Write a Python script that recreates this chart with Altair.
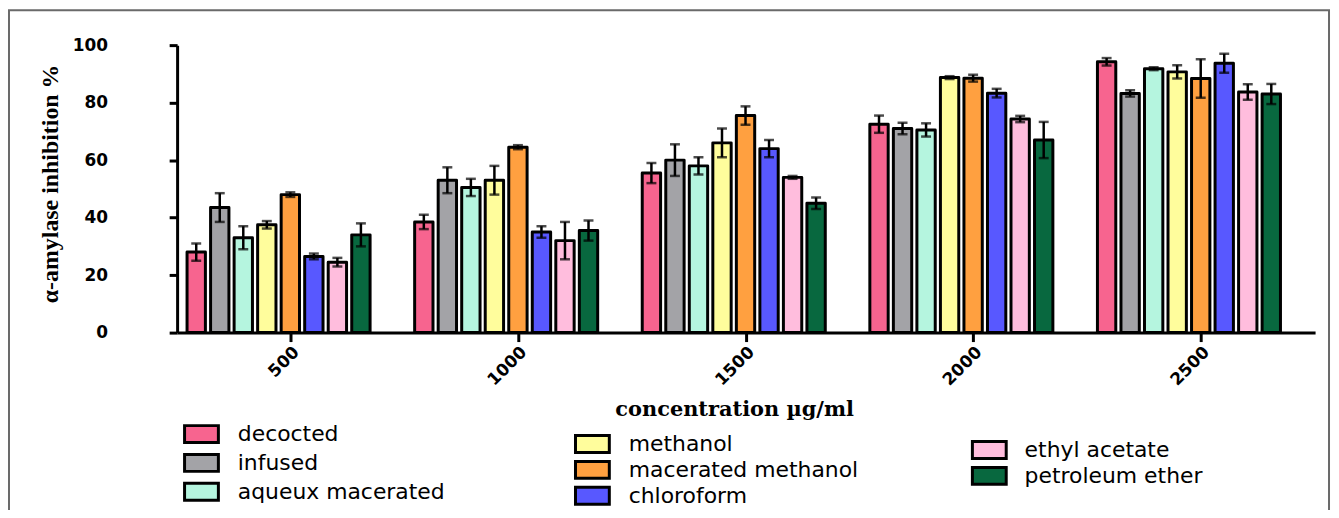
import altair as alt
import pandas as pd

concentrations = ["500", "1000", "1500", "2000", "2500"]
series = ["decocted", "infused", "aqueux macerated", "methanol",
          "macerated methanol", "chloroform", "ethyl acetate", "petroleum ether"]
colors = ["#F7648F", "#A3A3A7", "#B5F5DF", "#FFFD9C",
          "#FFA040", "#5858FF", "#FFBDDD", "#08683F"]

values = [
    [28.0, 38.5, 55.5, 72.5, 94.2],   # decocted
    [43.5, 53.0, 60.0, 71.0, 83.2],   # infused
    [33.0, 50.5, 58.0, 70.5, 91.8],   # aqueux macerated
    [37.5, 53.0, 66.0, 88.7, 90.7],   # methanol
    [48.0, 64.5, 75.5, 88.5, 88.4],   # macerated methanol
    [26.5, 35.0, 64.0, 83.3, 93.7],   # chloroform
    [24.5, 32.0, 54.0, 74.3, 83.7],   # ethyl acetate
    [34.0, 35.5, 45.0, 67.0, 83.0],   # petroleum ether
]
errors = [
    [3.0, 2.5, 3.5, 3.0, 1.3],
    [5.0, 4.5, 5.5, 2.0, 1.1],
    [4.0, 3.0, 3.0, 2.3, 0.5],
    [1.3, 5.0, 5.0, 0.5, 2.3],
    [0.8, 0.7, 3.2, 1.2, 6.7],
    [1.0, 2.0, 3.0, 1.5, 3.3],
    [1.5, 6.5, 0.5, 1.1, 2.7],
    [4.0, 3.5, 2.0, 6.3, 3.5],
]

rows = []
for si, s in enumerate(series):
    for ci, c in enumerate(concentrations):
        v = values[si][ci]
        e = errors[si][ci]
        rows.append({"conc": c, "series": s, "value": v, "err": e,
                     "lo": v - e, "hi": v + e})
df = pd.DataFrame(rows)

x_axis = alt.Axis(
    title="concentration µg/ml", titleFont="DejaVu Serif", titleFontWeight="bold",
    titleFontSize=21, titleColor="black", titleX=560, titleY=77,
    titleBaseline="middle", titleAlign="center",
    labelAngle=-45, labelFont="DejaVu Sans", labelFontWeight="bold",
    labelFontSize=17, labelColor="black", labelPadding=2,
    domainColor="black", domainWidth=3, tickColor="black", tickWidth=3,
    tickSize=9, grid=False,
)
y_axis = alt.Axis(
    title="α-amylase inhibition %", titleFont="Liberation Serif",
    titleFontWeight="bold", titleFontSize=24, titleColor="black",
    titleX=-127, titleY=139, titleAngle=-90, titleBaseline="middle",
    titleAlign="center",
    values=[0, 20, 40, 60, 80, 100], labelFont="DejaVu Sans",
    labelFontWeight="bold", labelFontSize=17, labelColor="black",
    labelPadding=62, domainColor="black", domainWidth=3,
    tickColor="black", tickWidth=3, tickSize=8, grid=False,
)

x_enc = alt.X("conc:N", sort=concentrations,
              scale=alt.Scale(domain=concentrations, paddingInner=0, paddingOuter=0),
              axis=x_axis)
xo_enc = alt.XOffset("series:N", sort=series,
                     scale=alt.Scale(domain=series, range=[10, 194],
                                     paddingInner=0.22, paddingOuter=0))
y_scale = alt.Scale(domain=[0, 100], nice=False, zero=True)


def bar_layer(subset, lx, ly, rowpad, loff):
    cols = [colors[series.index(s)] for s in subset]
    return alt.Chart(df).transform_filter(
        alt.FieldOneOfPredicate(field="series", oneOf=subset)
    ).mark_bar(stroke="black", strokeWidth=3, strokeJoin="round").encode(
        x=x_enc,
        xOffset=xo_enc,
        y=alt.Y("value:Q", scale=y_scale, axis=y_axis, title="α-amylase inhibition %"),
        color=alt.Color(
            "series:N",
            scale=alt.Scale(domain=subset, range=cols),
            legend=alt.Legend(
                title=None, orient="none", legendX=lx, legendY=ly,
                direction="vertical", padding=0,
                symbolType="M-2,-1H2V1H-2Z", symbolSize=289,
                symbolStrokeColor="black", symbolStrokeWidth=3,
                symbolOpacity=1,
                labelFont="DejaVu Sans", labelFontSize=22, labelColor="black",
                labelOffset=loff, rowPadding=rowpad, labelLimit=400,
            ),
        ),
    )


bars1 = bar_layer(series[0:3], 13.5, 380, -1, 25.5)
bars2 = bar_layer(series[3:6], 406.5, 390, -6, 25.5)
bars3 = bar_layer(series[6:8], 805.5, 396, -4, 24.5)

err_rule = alt.Chart(df).mark_rule(color="black", strokeWidth=2.5).encode(
    x=x_enc, xOffset=xo_enc,
    y=alt.Y("lo:Q", scale=y_scale, axis=y_axis, title="α-amylase inhibition %"),
    y2="hi:Q",
)
cap_hi = alt.Chart(df).mark_tick(color="black", thickness=2.5, size=10,
                                 orient="horizontal").encode(
    x=x_enc, xOffset=xo_enc,
    y=alt.Y("hi:Q", scale=y_scale, axis=y_axis, title="α-amylase inhibition %"),
)
cap_lo = alt.Chart(df).mark_tick(color="black", thickness=2.5, size=10,
                                 orient="horizontal").encode(
    x=x_enc, xOffset=xo_enc,
    y=alt.Y("lo:Q", scale=y_scale, axis=y_axis, title="α-amylase inhibition %"),
)

frame = alt.Chart(alt.Data(values=[{"k": 1}])).mark_rect(
    fill="transparent", stroke="#6A6A6A", strokeWidth=2
).encode(
    x=alt.value(-169), x2=alt.value(1158),
    y=alt.value(-35), y2=alt.value(600),
)

chart = alt.layer(frame, bars1, bars2, bars3, err_rule, cap_hi, cap_lo).resolve_scale(
    color="independent"
).properties(
    width=1144, height=289,
    padding={"left": 170, "top": 36, "right": 16, "bottom": 177},
    autosize=alt.AutoSizeParams(type="none"),
    background="white",
).configure_view(stroke=None)

chart.save("out.html", embed_options={"renderer": "svg", "actions": False})
